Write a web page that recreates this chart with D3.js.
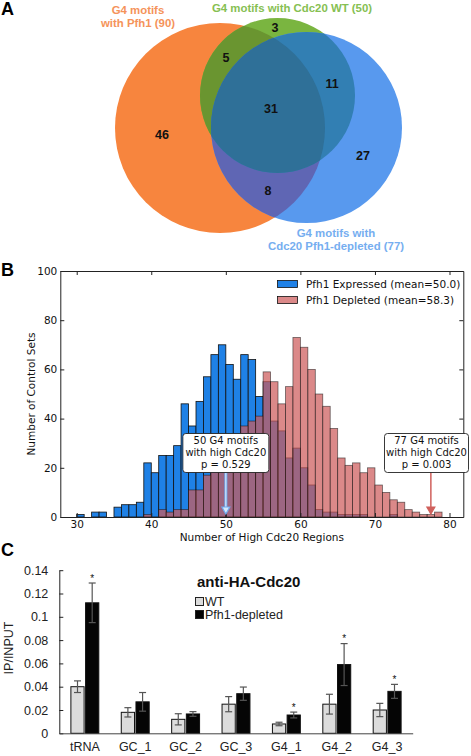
<!DOCTYPE html>
<html><head><meta charset="utf-8">
<script src="https://cdn.jsdelivr.net/npm/d3@7/dist/d3.min.js"></script>
<style>body{margin:0;background:#fff} svg{display:block}</style>
</head><body><svg id="c" width="471" height="756"></svg>
<script>
// ---------- Panel A data ----------
const vennSetNames = ["Pfh1", "Cdc20 WT", "Cdc20 Pfh1-depleted"];
const vennSetSizes = [90, 50, 77];
const vennSetLabels = [["G4 motifs", "with Pfh1 (90)"], ["G4 motifs with Cdc20 WT (50)"], ["G4 motifs with", "Cdc20 Pfh1-depleted (77)"]];
const vennRegionKeys = ["O", "G", "B", "OG", "OB", "GB", "OGB"];
const vennRegionCounts = [46, 3, 27, 5, 8, 11, 31];

// ---------- Panel B data ----------
const histBins = [30,31,32,33,34,35,36,37,38,39,40,41,42,43,44,45,46,47,48,49,50,51,52,53,54,55,56,57,58,59,60,61,62,63,64,65,66,67,68,69,70,71,72,73,74,75,76,77,78];
const expressedCounts = [1,0,2,2,0,4,5,5,6,22,18,25,25,29,46,37,47,57,66,70,62,56,66,64,49,55,39,35,24,28,20,13,3,2,2,1,1,1,1,0,0,0,1,0,0,0,0,0,0];
const depletedCounts  = [0,0,0,0,0,0,0,0,0,1,0,3,2,3,3,11,11,17,21,25,29,33,37,39,41,59,55,46,53,73,69,60,50,45,36,24,21,22,18,20,13,10,7,6,3,2,1,1,2];
const histSeries = ["Pfh1 Expressed (mean=50.0)", "Pfh1 Depleted (mean=58.3)"];
const histXTicks = [30, 40, 50, 60, 70, 80];
const histYTicks = [0, 20, 40, 60, 80, 100];
const annotValues = [50, 77];
const annotTexts = [["50 G4 motifs", "with high Cdc20", "p = 0.529"], ["77 G4 motifs", "with high Cdc20", "p = 0.003"]];

// ---------- Panel C data ----------
const chipCategories = ["tRNA", "GC_1", "GC_2", "GC_3", "G4_1", "G4_2", "G4_3"];
const chipSeries = ["WT", "Pfh1-depleted"];
const wtValues = [0.040, 0.018, 0.012, 0.025, 0.008, 0.025, 0.020];
const wtErrors = [0.005, 0.004, 0.0048, 0.0065, 0.0015, 0.0085, 0.0057];
const pfhValues = [0.112, 0.027, 0.0166, 0.034, 0.0157, 0.059, 0.036];
const pfhErrors = [0.017, 0.008, 0.002, 0.0057, 0.0025, 0.018, 0.006];
const pfhSignificant = [true, false, false, false, true, true, true];
const chipYTicks = [0, 0.02, 0.04, 0.06, 0.08, 0.1, 0.12, 0.14];
const chipYTickLabels = ["0", "0.02", "0.04", "0.06", "0.08", "0.1", "0.12", "0.14"];

const svg = d3.select("#c");
const SANS = "'Liberation Sans', Arial, Helvetica, sans-serif";
const DV = "'DejaVu Sans', sans-serif";

// panel letters
[["A", 15], ["B", 276], ["C", 556]].forEach(([t, y]) => {
  svg.append("text").attr("x", 1).attr("y", y).text(t)
    .attr("font-family", SANS).attr("font-weight", "bold").attr("font-size", 18).attr("fill", "#000");
});

// ================= Panel A: Venn =================
const circ = {
  O: {cx: 220, cy: 128, r: 105, fill: "#f7853e"},
  G: {cx: 277.5, cy: 95.5, r: 77.5, fill: "#7ab540"},
  B: {cx: 306.5, cy: 127.5, r: 95.5, fill: "#5899ee"}
};
const defs = svg.append("defs");
["O", "G", "B"].forEach(k => {
  defs.append("clipPath").attr("id", "clip" + k).append("circle")
    .attr("cx", circ[k].cx).attr("cy", circ[k].cy).attr("r", circ[k].r);
});
const gA = svg.append("g");
["O", "G", "B"].forEach(k => {
  gA.append("circle").attr("cx", circ[k].cx).attr("cy", circ[k].cy).attr("r", circ[k].r).attr("fill", circ[k].fill);
});
function clipped(base, clips, fill) {
  let g = gA;
  clips.forEach(c => { g = g.append("g").attr("clip-path", `url(#clip${c})`); });
  g.append("circle").attr("cx", circ[base].cx).attr("cy", circ[base].cy).attr("r", circ[base].r).attr("fill", fill);
}
clipped("O", ["G"], "#6a9530");
clipped("O", ["B"], "#5f66b4");
clipped("G", ["B"], "#327fb3");
clipped("G", ["B", "O"], "#2f7098");

const regionPos = {O: [162, 134], G: [275, 27], B: [363, 155], OG: [226, 57], OB: [268, 190], GB: [332, 83], OGB: [271, 108]};
vennRegionKeys.forEach((k, i) => {
  gA.append("text").attr("x", regionPos[k][0]).attr("y", regionPos[k][1]).attr("dy", "0.36em")
    .attr("text-anchor", "middle").attr("font-family", SANS).attr("font-weight", "bold")
    .attr("font-size", 12.5).attr("fill", "#111").text(vennRegionCounts[i]);
});
const setLabelCfg = [
  {x: 138, y: 14, color: "#f5935a"},
  {x: 292, y: 12, color: "#86c052"},
  {x: 336, y: 237, color: "#76aef0"}
];
vennSetLabels.forEach((lines, i) => {
  const t = gA.append("text").attr("text-anchor", "middle").attr("font-family", SANS)
    .attr("font-weight", "bold").attr("font-size", 11.4).attr("fill", setLabelCfg[i].color);
  lines.forEach((l, j) => t.append("tspan").attr("x", setLabelCfg[i].x).attr("y", setLabelCfg[i].y + j * 13).text(l));
});

// ================= Panel B: Histogram =================
const xB = d3.scaleLinear().domain([27.8, 81.85]).range([60.3, 463.3]);
const yB = d3.scaleLinear().domain([0, 100]).range([517, 271]);
const gB = svg.append("g");
const blueFill = "#1f81e6";
const redFill = "#cd5c5c";

const histData = histBins.map((b, i) => ({x0: b, x1: b + 1, e: expressedCounts[i], d: depletedCounts[i]}));
gB.selectAll("rect.blue").data(histData.filter(d => d.e > 0)).join("rect").attr("class", "blue")
  .attr("x", d => xB(d.x0)).attr("width", d => xB(d.x1) - xB(d.x0))
  .attr("y", d => yB(d.e)).attr("height", d => yB(0) - yB(d.e))
  .attr("fill", blueFill).attr("stroke", "#111").attr("stroke-width", 0.8);
gB.selectAll("rect.red").data(histData.filter(d => d.d > 0)).join("rect").attr("class", "red")
  .attr("x", d => xB(d.x0)).attr("width", d => xB(d.x1) - xB(d.x0))
  .attr("y", d => yB(d.d)).attr("height", d => yB(0) - yB(d.d))
  .attr("fill", redFill).attr("fill-opacity", 0.72).attr("stroke", "#111").attr("stroke-opacity", 0.6).attr("stroke-width", 0.8);

// axes (inward ticks, all four sides)
const axB = (sel) => sel.attr("font-family", DV).attr("font-size", 10.5);
gB.append("g").attr("transform", `translate(0,${yB(0)})`)
  .call(d3.axisBottom(xB).tickValues(histXTicks).tickSizeInner(-4).tickSizeOuter(0).tickPadding(4)).call(axB);
gB.append("g").attr("transform", `translate(0,${yB(100)})`)
  .call(d3.axisTop(xB).tickValues(histXTicks).tickSizeInner(-4).tickSizeOuter(0).tickFormat(""));
gB.append("g").attr("transform", `translate(${xB.range()[0]},0)`)
  .call(d3.axisLeft(yB).tickValues(histYTicks).tickSizeInner(-4).tickSizeOuter(0).tickPadding(3)).call(axB);
gB.append("g").attr("transform", `translate(${xB.range()[1]},0)`)
  .call(d3.axisRight(yB).tickValues(histYTicks).tickSizeInner(-4).tickSizeOuter(0).tickFormat(""));
gB.selectAll(".domain").attr("stroke", "#222").attr("stroke-width", 1);
gB.selectAll(".tick line").attr("stroke", "#222");
gB.selectAll(".tick text").attr("fill", "#111");

gB.append("text").attr("x", (60.3 + 463.3) / 2).attr("y", 541).attr("text-anchor", "middle")
  .attr("font-family", DV).attr("font-size", 10.5).attr("fill", "#111").text("Number of High Cdc20 Regions");
gB.append("text").attr("transform", `translate(35,${(517 + 271) / 2}) rotate(-90)`).attr("text-anchor", "middle")
  .attr("font-family", DV).attr("font-size", 10.5).attr("fill", "#111").text("Number of Control Sets");

// legend
histSeries.forEach((s, i) => {
  const y = 284 + i * 16;
  gB.append("rect").attr("x", 277.5).attr("y", y - 3.5).attr("width", 20).attr("height", 7)
    .attr("fill", i === 0 ? blueFill : redFill).attr("fill-opacity", i === 0 ? 1 : 0.72)
    .attr("stroke", "#111").attr("stroke-width", 0.8);
  gB.append("text").attr("x", 306).attr("y", y).attr("dy", "0.36em").attr("font-family", DV)
    .attr("font-size", 10.5).attr("fill", "#111").text(s);
});

// annotations
const annotCfg = [
  {w: 86, arrow: "#6eaaf0", head: "#d6e8fb"},
  {w: 84, arrow: "#d0605c", head: "#d0605c"}
];
annotValues.forEach((v, i) => {
  const cx = xB(v + 0.5) - (i === 0 ? 3.7 : 0);
  const bx = i === 0 ? cx : 426.5;
  const top = 433.5, bot = 472.5;
  const c = annotCfg[i];
  const tipY = 514;
  gB.append("line").attr("x1", cx).attr("x2", cx).attr("y1", bot).attr("y2", tipY - 6)
    .attr("stroke", c.arrow).attr("stroke-width", i === 0 ? 3 : 1.5);
  if (i === 0) {
    gB.append("line").attr("x1", cx).attr("x2", cx).attr("y1", bot).attr("y2", tipY - 6)
      .attr("stroke", "#e4f0fd").attr("stroke-width", 1);
  }
  gB.append("path").attr("d", `M${cx - 4},${tipY - 7}L${cx + 4},${tipY - 7}L${cx},${tipY}Z`)
    .attr("fill", c.head).attr("stroke", c.arrow).attr("stroke-width", 1.2);
  gB.append("rect").attr("x", bx - c.w / 2).attr("y", top).attr("width", c.w).attr("height", bot - top)
    .attr("rx", 3).attr("fill", "#fff").attr("stroke", "#222").attr("stroke-width", 0.9);
  annotTexts[i].forEach((t, j) => {
    gB.append("text").attr("x", bx).attr("y", top + 10.5 + j * 12).attr("text-anchor", "middle")
      .attr("font-family", DV).attr("font-size", 10).attr("fill", "#111").text(t);
  });
});

// ================= Panel C: bar chart =================
const yC = d3.scaleLinear().domain([0, 0.14]).range([733.3, 570.2]);
const xC = d3.scaleBand().domain(chipCategories).range([59.3, 412.7]).paddingInner(0.446).paddingOuter(0.23);
const xS = d3.scaleBand().domain(chipSeries).range([0, xC.bandwidth()]).paddingInner(0.1);
const gC = svg.append("g");
const rows = chipCategories.map((c, i) => ({c, wt: wtValues[i], wte: wtErrors[i], p: pfhValues[i], pe: pfhErrors[i], sig: pfhSignificant[i]}));
const bars = [];
rows.forEach(r => {
  bars.push({c: r.c, s: "WT", v: r.wt, e: r.wte, sig: false});
  bars.push({c: r.c, s: "Pfh1-depleted", v: r.p, e: r.pe, sig: r.sig});
});
gC.selectAll("rect.bar").data(bars).join("rect").attr("class", "bar")
  .attr("x", d => xC(d.c) + xS(d.s)).attr("width", xS.bandwidth())
  .attr("y", d => yC(d.v)).attr("height", d => yC(0) - yC(d.v))
  .attr("fill", d => d.s === "WT" ? "#dcdcdc" : "#050505").attr("stroke", "#111").attr("stroke-width", 1);
bars.forEach(d => {
  const cx = xC(d.c) + xS(d.s) + xS.bandwidth() / 2;
  const g = gC.append("g").attr("stroke", "#555").attr("stroke-width", 1.2);
  g.append("line").attr("x1", cx).attr("x2", cx).attr("y1", yC(d.v - d.e)).attr("y2", yC(d.v + d.e));
  g.append("line").attr("x1", cx - 3.5).attr("x2", cx + 3.5).attr("y1", yC(d.v - d.e)).attr("y2", yC(d.v - d.e));
  g.append("line").attr("x1", cx - 3.5).attr("x2", cx + 3.5).attr("y1", yC(d.v + d.e)).attr("y2", yC(d.v + d.e));
  if (d.sig) {
    gC.append("text").attr("x", cx).attr("y", yC(d.v + d.e) - 1.5).attr("text-anchor", "middle")
      .attr("font-family", SANS).attr("font-size", 10).attr("fill", "#111").text("*");
  }
});
const yAx = gC.append("g").attr("transform", `translate(59.3,0)`)
  .call(d3.axisLeft(yC).tickValues(chipYTicks).tickFormat((d, i) => chipYTickLabels[i]).tickSizeInner(-4).tickSizeOuter(0).tickPadding(11));
yAx.select(".domain").attr("stroke", "#222");
yAx.selectAll(".tick line").attr("stroke", "#222");
yAx.selectAll(".tick text").attr("font-family", SANS).attr("font-size", 12.5).attr("fill", "#222");
const xAx = gC.append("g").attr("transform", `translate(0,${yC(0)})`)
  .call(d3.axisBottom(xC).tickSize(0).tickPadding(9));
xAx.select(".domain").attr("stroke", "#444");
xAx.selectAll(".tick text").attr("font-family", SANS).attr("font-size", 12.5).attr("fill", "#222");
gC.append("text").attr("transform", `translate(13,648) rotate(-90)`).attr("text-anchor", "middle")
  .attr("font-family", SANS).attr("font-size", 12.5).attr("fill", "#222").text("IP/INPUT");
gC.append("text").attr("x", 197).attr("y", 587).attr("font-family", SANS).attr("font-weight", "bold")
  .attr("font-size", 15).attr("fill", "#111").text("anti-HA-Cdc20");
chipSeries.forEach((s, i) => {
  const y = 601.5 + i * 13;
  gC.append("rect").attr("x", 195.5).attr("y", y - 4).attr("width", 8).attr("height", 8)
    .attr("fill", i === 0 ? "#dcdcdc" : "#050505").attr("stroke", "#222").attr("stroke-width", 1);
  gC.append("text").attr("x", 205).attr("y", y).attr("dy", "0.36em").attr("font-family", SANS)
    .attr("font-size", 12.5).attr("fill", "#222").text(s);
});
</script>
</body></html>
